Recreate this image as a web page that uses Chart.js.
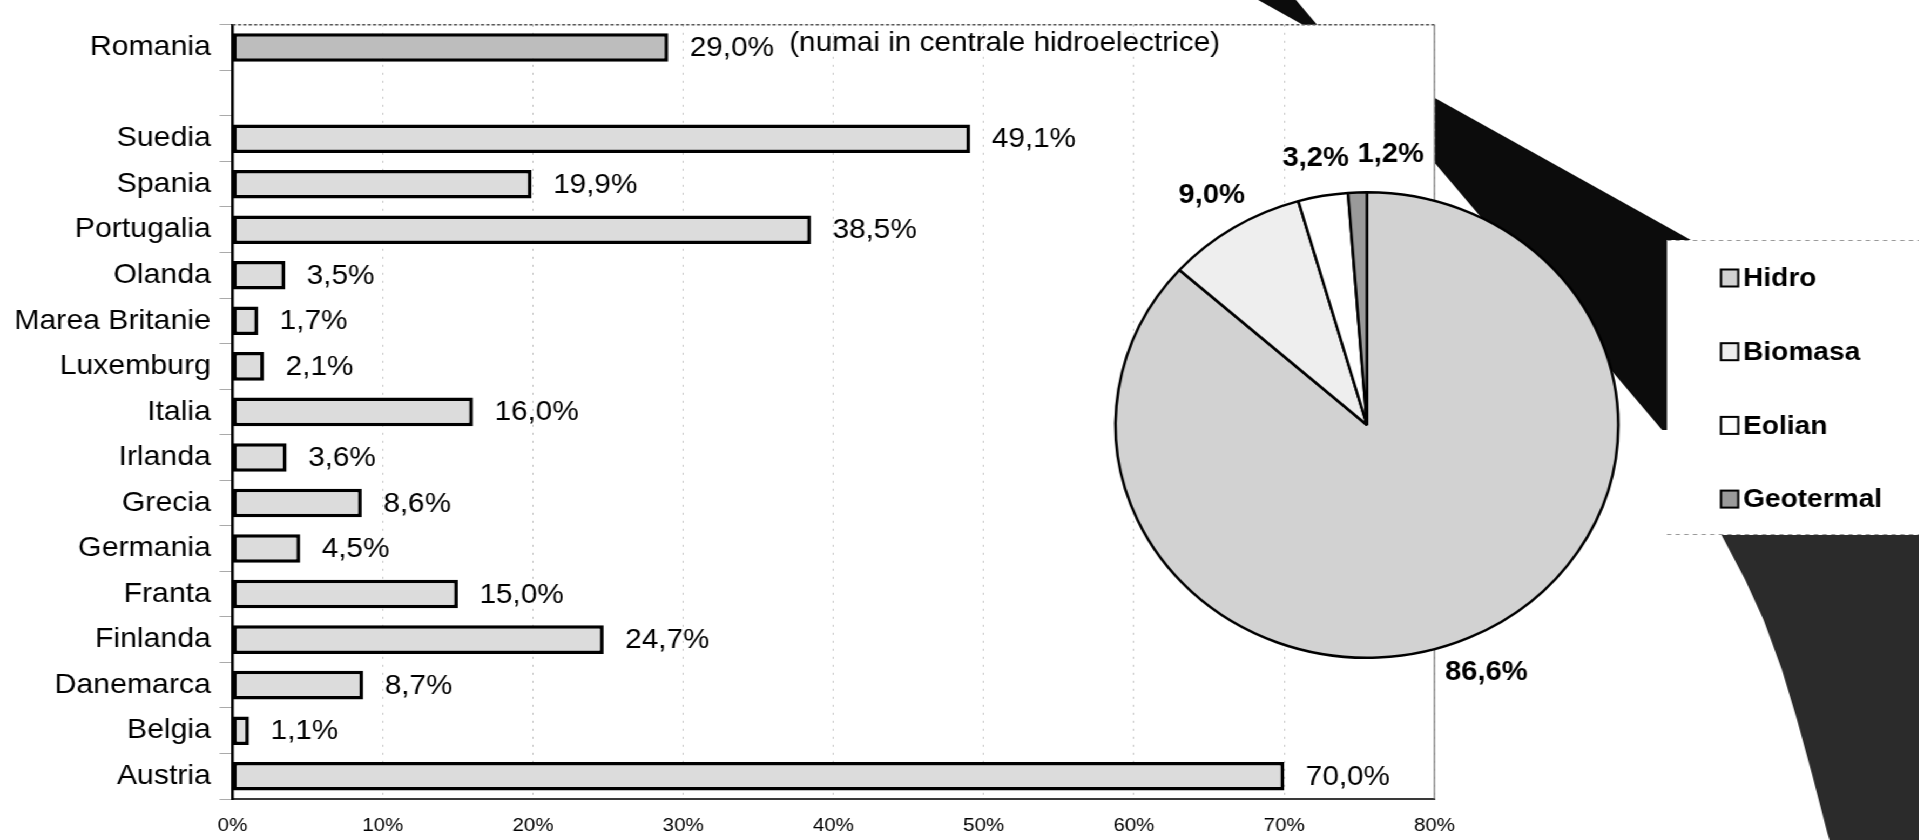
<!DOCTYPE html>
<html>
<head>
<meta charset="utf-8">
<title>Energie din surse regenerabile</title>
<script src="https://cdn.jsdelivr.net/npm/chart.js@4.4.0/dist/chart.umd.min.js"></script>
<style>
  html, body { margin: 0; padding: 0; background: #fff; overflow: hidden; }
  /* the scanned original is stretched a bit horizontally, so we do the same */
  #page { position: relative; width: 1777px; height: 840px; transform: scaleX(1.08); transform-origin: 0 0; }
  #page canvas { position: absolute; left: 0; top: 0; }
</style>
</head>
<body>
<div id="page">
    <canvas id="barChart" width="1777" height="840"></canvas>
    <canvas id="pieChart" width="1777" height="840"></canvas>
</div>
<script>
// bar chart data (empty slot between Romania and the EU countries)
const countries = ["Romania", "", "Suedia", "Spania", "Portugalia", "Olanda",
    "Marea Britanie", "Luxemburg", "Italia", "Irlanda", "Grecia", "Germania",
    "Franta", "Finlanda", "Danemarca", "Belgia", "Austria"];
const shares = [29.0, null, 49.1, 19.9, 38.5, 3.5, 1.7, 2.1, 16.0, 3.6, 8.6,
    4.5, 15.0, 24.7, 8.7, 1.1, 70.0];
const romaniaNote = "(numai in centrale hidroelectrice)";
const xTickValues = [0, 10, 20, 30, 40, 50, 60, 70, 80];

// pie chart data
const sources = ["Hidro", "Biomasa", "Eolian", "Geotermal"];
const sourceShares = [86.6, 9.0, 3.2, 1.2];

const FONT = "'Liberation Sans', Arial, sans-serif";
Chart.defaults.font.family = FONT;
Chart.defaults.color = "#000";

function fmtPct(v) {
    return v.toFixed(1).replace(".", ",") + "%";
}

// dark shapes of the page behind the chart + white plot area
const sceneryPlugin = {
    id: "scenery",
    beforeDraw(chart) {
        const ctx = chart.ctx;
        const area = chart.chartArea;
        ctx.save();
        ctx.fillStyle = "#0c0c0c";
        ctx.beginPath();
        ctx.moveTo(1165, 0);
        ctx.lineTo(1574, 245);
        ctx.lineTo(1574, 430);
        ctx.lineTo(1539, 430);
        ctx.lineTo(1200, 0);
        ctx.closePath();
        ctx.fill();

        ctx.fillStyle = "#2b2b2b";
        ctx.beginPath();
        ctx.moveTo(1594, 535);
        ctx.lineTo(1616, 580);
        ctx.lineTo(1633, 620);
        ctx.lineTo(1650, 670);
        ctx.lineTo(1664, 720);
        ctx.lineTo(1678, 775);
        ctx.lineTo(1692, 833);
        ctx.lineTo(1694, 840);
        ctx.lineTo(1777, 840);
        ctx.lineTo(1777, 535);
        ctx.closePath();
        ctx.fill();

        ctx.fillStyle = "#fff";
        ctx.fillRect(area.left, area.top, area.right - area.left, area.bottom - area.top);
        ctx.restore();
    },
    beforeDatasetsDraw(chart) {
        // top and right edge of the plot frame
        const ctx = chart.ctx;
        const area = chart.chartArea;
        ctx.save();
        ctx.strokeStyle = "#555";
        ctx.lineWidth = 1.5;
        ctx.setLineDash([3, 2]);
        ctx.beginPath();
        ctx.moveTo(area.left, area.top);
        ctx.lineTo(area.right, area.top);
        ctx.stroke();
        ctx.setLineDash([]);
        ctx.strokeStyle = "#777";
        ctx.lineWidth = 1.2;
        ctx.beginPath();
        ctx.moveTo(area.right, area.top);
        ctx.lineTo(area.right, area.bottom);
        ctx.stroke();
        ctx.restore();
    }
};

// value labels at the end of each bar
const barLabelPlugin = {
    id: "barLabels",
    afterDatasetsDraw(chart) {
        const ctx = chart.ctx;
        const meta = chart.getDatasetMeta(0);
        ctx.save();
        ctx.font = "27.5px " + FONT;
        ctx.fillStyle = "#000";
        ctx.textAlign = "left";
        ctx.textBaseline = "middle";
        meta.data.forEach(function(bar, i) {
            if (shares[i] == null) {
                return;
            }
            const text = fmtPct(shares[i]);
            const x = bar.x + 20;
            ctx.fillText(text, x, bar.y + 1);
            if (i === 0) {
                const w = ctx.measureText(text).width;
                ctx.fillText(romaniaNote, x + w + 14, bar.y - 4);
            }
        });
        ctx.restore();
    }
};

new Chart(document.getElementById("barChart"), {
    type: "bar",
    data: {
        labels: countries,
        datasets: [{
            data: shares,
            backgroundColor: function(c) {
                return c.dataIndex === 0 ? "#bdbdbd" : "#dcdcdc";
            },
            borderColor: "#000",
            borderWidth: 3.5,
            borderSkipped: false,
            barPercentage: 0.627,
            categoryPercentage: 1
        }]
    },
    options: {
        indexAxis: "y",
        responsive: false,
        animation: false,
        events: [],
        layout: { padding: { left: 0, right: 448.8, top: 13, bottom: 0 } },
        plugins: {
            legend: { display: false },
            tooltip: { enabled: false }
        },
        scales: {
            x: {
                min: 0,
                max: 80,
                afterBuildTicks: function(scale) {
                    scale.ticks = xTickValues.map(function(v) { return { value: v }; });
                },
                afterFit: function(scale) { scale.height = 41; },
                grid: { color: "#c4c4c4", lineWidth: 1, drawTicks: false },
                border: { color: "#3a3a3a", width: 2, dash: [2, 6] },
                ticks: {
                    padding: 15,
                    font: { size: 19 },
                    color: "#000",
                    callback: function(v) { return v + "%"; }
                }
            },
            y: {
                afterFit: function(scale) { scale.width = 215.3; },
                grid: { drawOnChartArea: false, tickLength: 12, color: "#aaa", offset: true },
                border: { color: "#000", width: 2.5 },
                ticks: { padding: 8, autoSkip: false, font: { size: 28 }, color: "#000" }
            }
        }
    },
    plugins: [sceneryPlugin, barLabelPlugin]
});

// percent labels outside the pie, nudged right when they collide
const pieLabelPlugin = {
    id: "pieLabels",
    afterDatasetsDraw(chart) {
        const ctx = chart.ctx;
        const arcs = chart.getDatasetMeta(0).data;
        ctx.save();
        ctx.font = "bold 27px " + FONT;
        ctx.fillStyle = "#000";
        ctx.textAlign = "center";
        ctx.textBaseline = "middle";
        let prev = null;
        arcs.forEach(function(arc, i) {
            const mid = (arc.startAngle + arc.endAngle) / 2;
            const r = arc.outerRadius + 38;
            const text = fmtPct(sourceShares[i]);
            const w = ctx.measureText(text).width;
            let x = arc.x + Math.cos(mid) * r;
            const y = arc.y + Math.sin(mid) * r;
            if (prev && Math.abs(prev.y - y) < 28 && x - w / 2 < prev.right + 8) {
                x = prev.right + 8 + w / 2;
            }
            ctx.fillText(text, x, y);
            prev = { y: y, right: x + w / 2 };
        });
        ctx.restore();
    }
};

// legend in its white box on the right
const pieLegendPlugin = {
    id: "pieLegend",
    afterDraw(chart) {
        const ctx = chart.ctx;
        const colors = chart.data.datasets[0].backgroundColor;
        ctx.save();
        ctx.fillStyle = "#fff";
        ctx.fillRect(1543.5, 240, 240, 295);
        ctx.strokeStyle = "#999";
        ctx.lineWidth = 1;
        ctx.setLineDash([4, 4]);
        ctx.beginPath();
        ctx.moveTo(1543.5, 240.5);
        ctx.lineTo(1777, 240.5);
        ctx.moveTo(1543.5, 534.5);
        ctx.lineTo(1777, 534.5);
        ctx.stroke();
        ctx.setLineDash([]);

        ctx.font = "bold 26px " + FONT;
        ctx.textAlign = "left";
        ctx.textBaseline = "middle";
        sources.forEach(function(name, i) {
            const y = 278 + i * 73.7;
            ctx.fillStyle = colors[i];
            ctx.fillRect(1593.5, y - 8.5, 16, 17);
            ctx.strokeStyle = "#000";
            ctx.lineWidth = 2;
            ctx.strokeRect(1593.5, y - 8.5, 16, 17);
            ctx.fillStyle = "#000";
            ctx.fillText(name, 1614, y + 1);
        });
        ctx.restore();
    }
};

new Chart(document.getElementById("pieChart"), {
    type: "pie",
    data: {
        labels: sources,
        datasets: [{
            data: sourceShares,
            backgroundColor: ["#d2d2d2", "#eeeeee", "#ffffff", "#9a9a9a"],
            borderColor: "#000",
            borderWidth: 2.5
        }]
    },
    options: {
        responsive: false,
        animation: false,
        events: [],
        layout: { padding: { left: 1031.7, right: 277.3, top: 191, bottom: 181 } },
        plugins: {
            legend: { display: false },
            tooltip: { enabled: false }
        }
    },
    plugins: [pieLabelPlugin, pieLegendPlugin]
});
</script>
</body>
</html>
